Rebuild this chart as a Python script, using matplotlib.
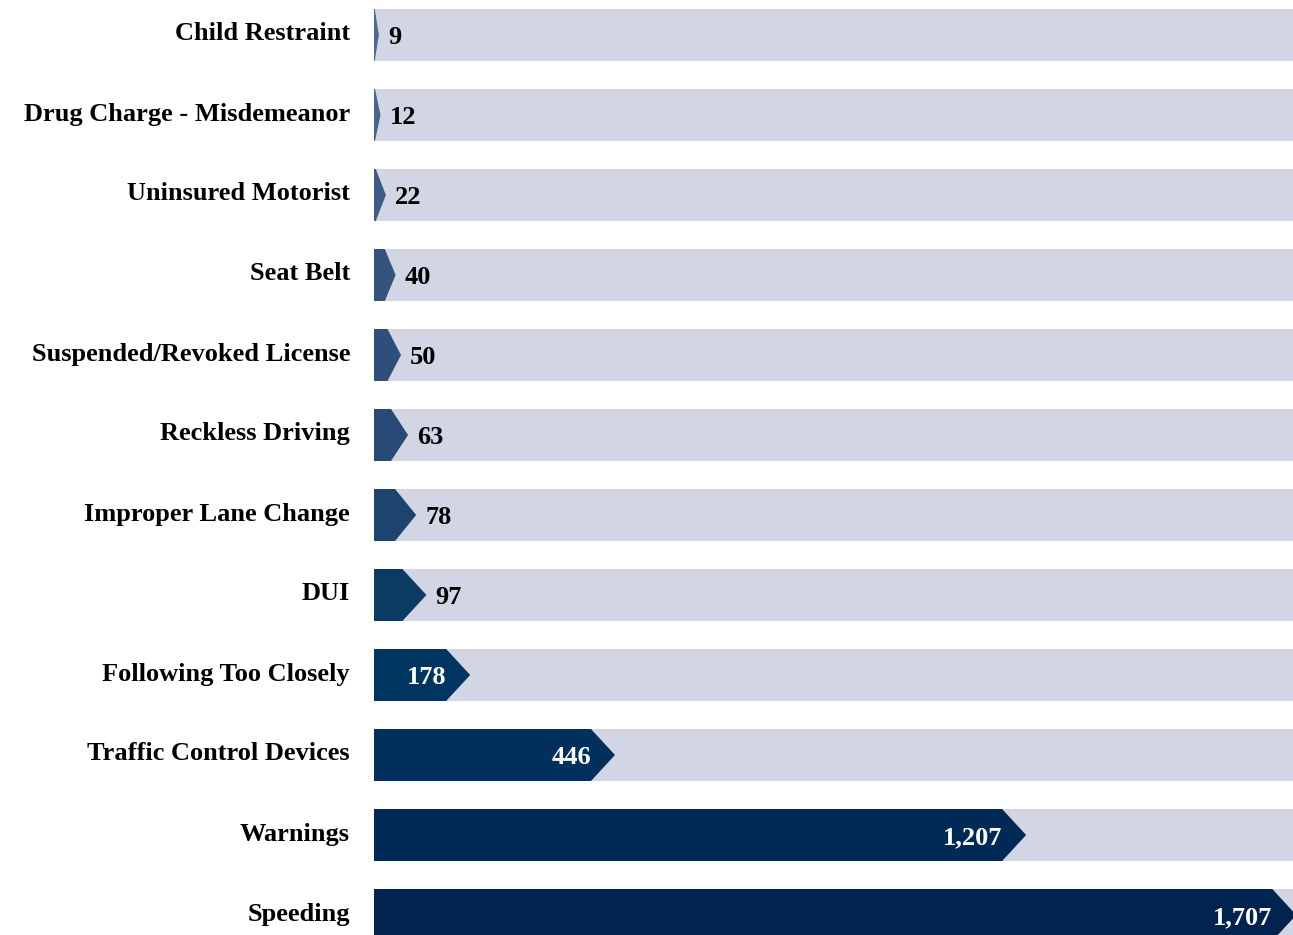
import matplotlib
matplotlib.use("Agg")
import matplotlib.pyplot as plt
from matplotlib.patches import Polygon, Rectangle

categories = ["Child Restraint", "Drug Charge - Misdemeanor", "Uninsured Motorist",
              "Seat Belt", "Suspended/Revoked License", "Reckless Driving",
              "Improper Lane Change", "DUI", "Following Too Closely",
              "Traffic Control Devices", "Warnings", "Speeding"]
values = [9, 12, 22, 40, 50, 63, 78, 97, 178, 446, 1207, 1707]
bar_colors = ["#4c6a92", "#46658e", "#3d5d88", "#34547e", "#2e4f7a", "#274a77",
              "#1d436f", "#0b3a63", "#003562", "#00305b", "#002a55", "#00234f"]
bg_color = "#d2d6e4"

W, H, DPI = 1293, 935, 100
fig = plt.figure(figsize=(W / DPI, H / DPI), dpi=DPI)
left_px = 374
ax = fig.add_axes([left_px / W, 0, 1 - left_px / W, 1])
xmax = 1701
ax.set_xlim(0, xmax)
row_px = 80.0
top_px = 35.0
ax.set_ylim((H - top_px) / row_px, -top_px / row_px)
ax.axis("off")

upx = xmax / (W - left_px)  # data units per pixel
bh = 52 / row_px
font = "Liberation Serif"

for i, (cat, v, c) in enumerate(zip(categories, values, bar_colors)):
    y0, y1 = i - bh / 2, i + bh / 2
    ax.add_patch(Rectangle((0, y0), xmax, bh, facecolor=bg_color, edgecolor="none", zorder=1))
    L = v
    Lpx = L / upx
    if Lpx < 15:
        dpx = Lpx * 0.85
    else:
        dpx = min(24, Lpx * 0.5)
    d = dpx * upx
    poly = Polygon([(0, y0), (L - d, y0), (L, i), (L - d, y1), (0, y1)],
                   closed=True, facecolor=c, edgecolor="none", zorder=2, clip_on=True)
    ax.add_patch(poly)
    lab = f"{v:,}"
    if v >= 150:
        ax.text(L - 24 * upx, i + 0.03, lab, ha="right", va="center", color="white",
                fontsize=19, fontweight="bold", family=font, zorder=3)
    else:
        ax.text(L + 9 * upx, i + 0.03, lab, ha="left", va="center", color="black",
                fontsize=19, fontweight="bold", family=font, zorder=3)
    fig.text(350 / W, 1 - (top_px + row_px * i - 1) / H, cat, ha="right", va="center",
             fontsize=19, fontweight="bold", family=font, color="black")

fig.savefig("out.png", dpi=DPI)
